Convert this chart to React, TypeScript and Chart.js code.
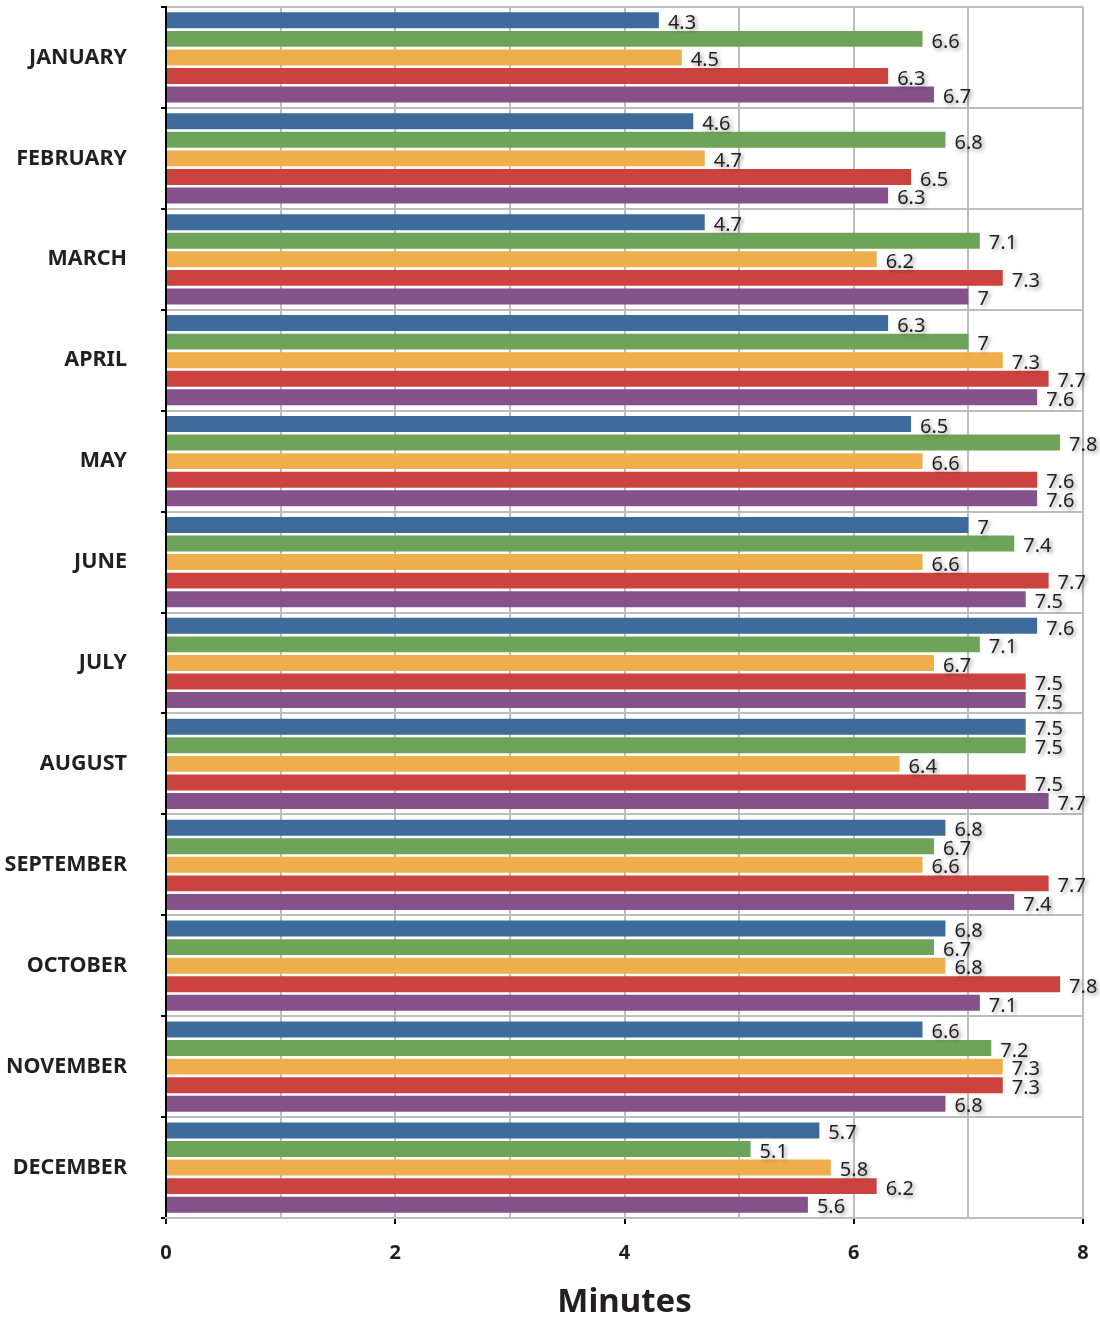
import React, { useEffect, useRef } from "react";
import { Chart, registerables } from "chart.js";

Chart.register(...registerables);

const months = ["JANUARY", "FEBRUARY", "MARCH", "APRIL", "MAY", "JUNE", "JULY", "AUGUST", "SEPTEMBER", "OCTOBER", "NOVEMBER", "DECEMBER"];
const seriesBlue = [4.3, 4.6, 4.7, 6.3, 6.5, 7, 7.6, 7.5, 6.8, 6.8, 6.6, 5.7];
const seriesGreen = [6.6, 6.8, 7.1, 7, 7.8, 7.4, 7.1, 7.5, 6.7, 6.7, 7.2, 5.1];
const seriesOrange = [4.5, 4.7, 6.2, 7.3, 6.6, 6.6, 6.7, 6.4, 6.6, 6.8, 7.3, 5.8];
const seriesRed = [6.3, 6.5, 7.3, 7.7, 7.6, 7.7, 7.5, 7.5, 7.7, 7.8, 7.3, 6.2];
const seriesPurple = [6.7, 6.3, 7, 7.6, 7.6, 7.5, 7.5, 7.7, 7.4, 7.1, 6.8, 5.6];
const xTickValues = [0, 2, 4, 6, 8];
const axisTitle = "Minutes";

const colors = ["#3d6b9b", "#6da45a", "#edae4b", "#cc423f", "#84518a"];
const FONT = "'Noto Sans', sans-serif";

const valueLabelPlugin = {
  id: "valueLabels",
  afterDatasetsDraw(chart: any) {
    const ctx = chart.ctx;
    ctx.save();
    ctx.font = `400 20px ${FONT}`;
    ctx.textAlign = "left";
    ctx.textBaseline = "middle";
    chart.data.datasets.forEach((ds: any, di: number) => {
      const meta = chart.getDatasetMeta(di);
      meta.data.forEach((bar: any, i: number) => {
        const v = ds.data[i];
        ctx.shadowColor = "rgba(0,0,0,0.45)";
        ctx.shadowBlur = 4;
        ctx.shadowOffsetX = 2;
        ctx.shadowOffsetY = 2;
        ctx.fillStyle = "#231f20";
        ctx.fillText(String(v), bar.x + 9, bar.y + 3);
      });
    });
    ctx.restore();
  },
};

export default function App() {
  const ref = useRef<HTMLCanvasElement>(null);
  useEffect(() => {
    if (!ref.current) return;
    const all = [seriesBlue, seriesGreen, seriesOrange, seriesRed, seriesPurple];
    const chart = new Chart(ref.current, {
      type: "bar",
      data: {
        labels: months,
        datasets: all.map((d, i) => ({
          label: "S" + i,
          data: d,
          backgroundColor: colors[i],
          borderWidth: 0,
          categoryPercentage: 0.92,
          barPercentage: 0.86,
        })),
      },
      options: {
        indexAxis: "y",
        responsive: false,
        animation: false,
        layout: { padding: { top: 7, right: 17, left: 0, bottom: 0 } },
        plugins: { legend: { display: false }, tooltip: { enabled: false } },
        scales: {
          y: {
            type: "category",
            offset: true,
            afterFit: (s: any) => {
              s.width = 166;
              s.paddingTop = 0;
              s.paddingBottom = 0;
            },
            grid: {
              offset: true,
              color: "#bdbdbd",
              lineWidth: 2,
              tickColor: "#000",
              tickLength: 5,
              tickWidth: 2,
            },
            border: { color: "#000", width: 2 },
            ticks: {
              padding: 34,
              color: "#231f20",
              font: { family: FONT, size: 21.5, weight: "bold" },
            },
          },
          x: {
            type: "linear",
            min: 0,
            max: 8,
            afterFit: (s: any) => {
              s.height = 101;
              s.paddingRight = 0;
              s.paddingLeft = 0;
            },
            afterBuildTicks: (s: any) => {
              const t: any[] = [];
              for (let v = 0; v <= 8; v++) t.push({ value: v });
              s.ticks = t;
            },
            grid: {
              color: "#bdbdbd",
              lineWidth: 2,
              tickLength: 6,
              tickWidth: 2,
              tickColor: (c: any) => (xTickValues.includes(c.tick?.value) ? "#000" : "rgba(0,0,0,0)"),
            },
            border: { color: "#bdbdbd", width: 2 },
            ticks: {
              padding: 17,
              color: "#231f20",
              maxRotation: 0,
              font: { family: FONT, size: 20, weight: "bold" },
              callback: (v: any) => (xTickValues.includes(Number(v)) ? String(v) : ""),
            },
            title: {
              display: true,
              text: axisTitle,
              color: "#231f20",
              padding: { top: 0, bottom: 0 },
              font: { family: FONT, size: 33, weight: "bold", lineHeight: 1 },
            },
          },
        },
      },
      plugins: [valueLabelPlugin],
    });
    return () => chart.destroy();
  }, []);
  return (
    <div style={{ position: "absolute", left: 0, top: 0, width: 1100, height: 1319, background: "#fff" }}>
      <canvas ref={ref} width={1100} height={1319} style={{ display: "block" }} />
    </div>
  );
}
